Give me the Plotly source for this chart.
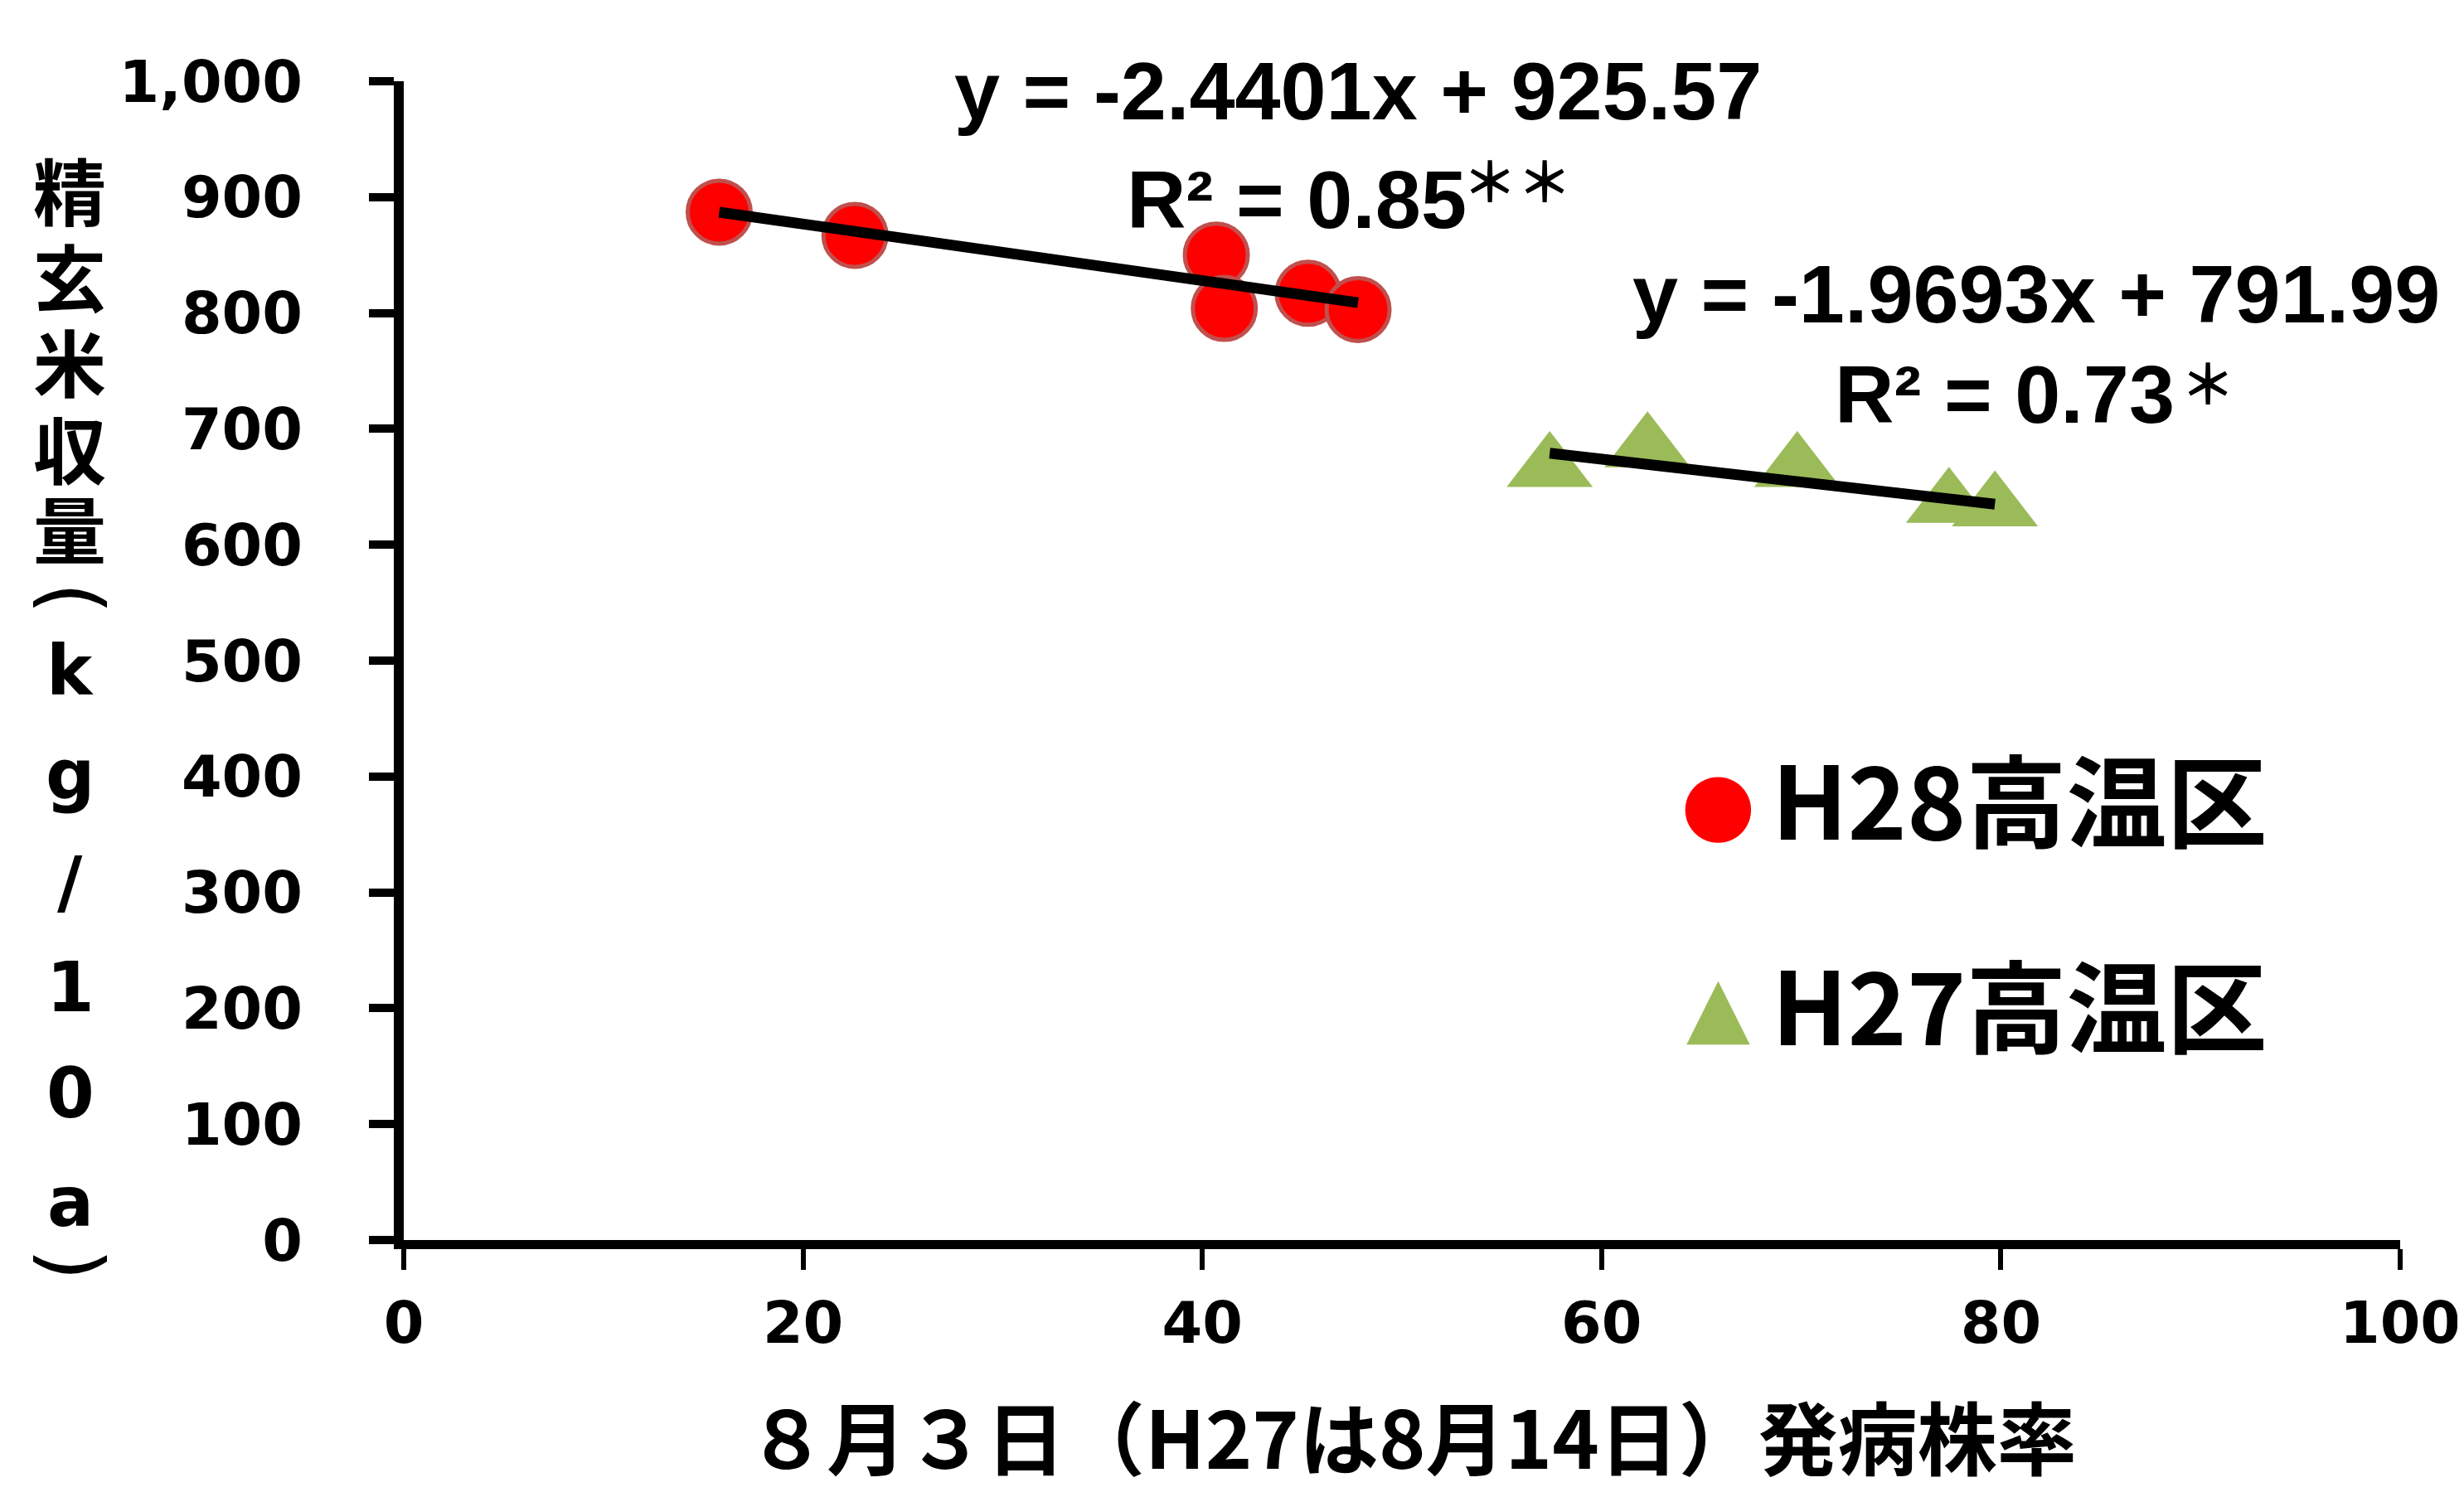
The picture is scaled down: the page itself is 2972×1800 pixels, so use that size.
import plotly.graph_objects as go

# ---------------- data ----------------
h28_x = [15.8, 22.6, 40.7, 41.1, 45.3, 47.8]
h28_y = [887, 867, 850, 804, 817, 803]
h27_x = [57.4, 62.3, 69.8, 77.4, 79.7]
h27_y = [666, 683, 666, 635, 632]

h28_slope, h28_intercept = -2.4401, 925.57
h27_slope, h27_intercept = -1.9693, 791.99
h28_r2, h28_sig = "0.85", "＊＊"
h27_r2, h27_sig = "0.73", "＊"

series_names = ["H28高温区", "H27高温区"]
x_ticks = [0, 20, 40, 60, 80, 100]
y_ticks = [0, 100, 200, 300, 400, 500, 600, 700, 800, 900, 1000]
x_title = "８月３日（H27は8月14日）発病株率"
y_title_kanji = ["精", "玄", "米", "収", "量"]
y_title_unit = ["k", "g", "/", "1", "0", "a"]
y_title_brackets = ["(", ")"]   # drawn a quarter turn, i.e. vertical-writing brackets

# ---------------- layout geometry (pixels) ----------------
W, H = 2972, 1800
L, R, T, B = 479, 2898, 90, 1488
y_title_kanji_pos = [218, 322, 425, 530, 626]
y_title_unit_pos = [802, 927, 1056, 1183, 1311, 1442]
y_title_bracket_pos = [714, 1518]


def px(x):
    return (x - L) / (R - L)


def py(y):
    return (B - y) / (B - T)


RED = "#FF0000"
RED_EDGE = "rgb(192,80,77)"
GREEN = "#9BBB59"
TICK_FONT = dict(family="DejaVu Sans, Verdana, sans-serif", size=70, color="black", weight="bold")
EQ_FONT = dict(family="Liberation Sans, Arial, sans-serif", size=99, color="black", weight="bold")
JP_FONT = "Noto Sans CJK JP, sans-serif"
STAR_FONT = dict(family=JP_FONT, size=66, color="black", weight="bold")

fig = go.Figure()

fig.add_trace(go.Scatter(
    x=h28_x, y=h28_y, mode="markers", name=series_names[0],
    marker=dict(symbol="circle", size=76, color=RED, line=dict(color=RED_EDGE, width=5)),
))
fig.add_trace(go.Scatter(
    x=h27_x, y=h27_y, mode="markers", name=series_names[1],
    marker=dict(symbol="triangle-up", size=90, color=GREEN, line=dict(width=0)),
))


def trend(xs, slope, intercept):
    x0, x1 = min(xs), max(xs)
    return [x0, x1], [slope * x0 + intercept, slope * x1 + intercept]


for xs, s, b in [(h28_x, h28_slope, h28_intercept), (h27_x, h27_slope, h27_intercept)]:
    lx, ly = trend(xs, s, b)
    fig.add_trace(go.Scatter(x=lx, y=ly, mode="lines", line=dict(color="black", width=13),
                             showlegend=False, hoverinfo="skip"))


def eq_text(s, b):
    return f"y = {s:.4f}x + {b:.2f}"


annotations = [
    dict(x=px(1635), y=py(102), text=eq_text(h28_slope, h28_intercept), font=EQ_FONT),
    dict(x=px(1561), y=py(232), text=f"R² = {h28_r2}", font=EQ_FONT),
    dict(x=px(1760), y=py(207), text=h28_sig, font=STAR_FONT, xanchor="left"),
    dict(x=px(2457), y=py(346), text=eq_text(h27_slope, h27_intercept), font=EQ_FONT),
    dict(x=px(2419), y=py(467), text=f"R² = {h27_r2}", font=EQ_FONT),
    dict(x=px(2630), y=py(451), text=h27_sig, font=STAR_FONT, xanchor="left"),
    # legend
    dict(x=px(2072), y=py(960), text="●", font=dict(family="DejaVu Sans", size=104, color=RED)),
    dict(x=px(2135), y=py(952), text=series_names[0], xanchor="left",
         font=dict(family=JP_FONT, size=121, color="black", weight="bold")),
    dict(x=px(2072), y=py(1205), text="▲", font=dict(family="DejaVu Sans", size=100, color=GREEN)),
    dict(x=px(2135), y=py(1200), text=series_names[1], xanchor="left",
         font=dict(family=JP_FONT, size=121, color="black", weight="bold")),
    # x-axis title
    dict(x=px(1701), y=py(1722), text=x_title,
         font=dict(family=JP_FONT, size=96, color="black", weight="bold")),
]

# y-axis title written vertically: kanji, bracket, unit, bracket
for ch, ypix in zip(y_title_kanji, y_title_kanji_pos):
    annotations.append(dict(x=px(74), y=py(ypix), text=ch,
                            font=dict(family=JP_FONT, size=88, color="black", weight="bold")))
for ch, ypix in zip(y_title_unit, y_title_unit_pos):
    annotations.append(dict(x=px(75), y=py(ypix), text=ch,
                            font=dict(family="DejaVu Sans, sans-serif", size=83,
                                      color="black", weight="bold")))
for ch, ypix in zip(y_title_brackets, y_title_bracket_pos):
    annotations.append(dict(x=px(78), y=py(ypix), text=ch, textangle=90,
                            font=dict(family="DejaVu Sans, sans-serif", size=100,
                                      color="black")))

for a in annotations:
    a.setdefault("xref", "paper")
    a.setdefault("yref", "paper")
    a.setdefault("showarrow", False)
    a.setdefault("xanchor", "center")
    a.setdefault("yanchor", "middle")

fig.update_layout(
    width=W, height=H,
    margin=dict(l=L, r=W - R, t=T, b=H - B, pad=0),
    paper_bgcolor="white", plot_bgcolor="white",
    showlegend=False,
    annotations=annotations,
    xaxis=dict(range=[0, 100], tickvals=x_ticks, showgrid=False, zeroline=False,
               showline=True, linecolor="black", linewidth=11,
               ticks="outside", ticklen=25, tickwidth=6, tickcolor="black",
               tickfont=TICK_FONT, ticklabelstandoff=4),
    yaxis=dict(range=[0, 1000], tickvals=y_ticks, tickformat=",", showgrid=False, zeroline=False,
               showline=True, linecolor="black", linewidth=12,
               ticks="outside", ticklen=30, tickwidth=10, tickcolor="black",
               tickfont=TICK_FONT, ticklabelstandoff=66),
)

fig.write_html("out.html")
